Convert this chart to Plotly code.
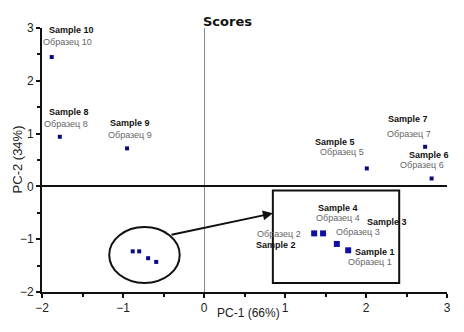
import plotly.graph_objects as go

# ---- data ----
sample_ids = [1, 2, 3, 4, 5, 6, 7, 8, 9, 10]
pc1 = [-0.59, -0.88, -0.69, -0.80, 2.01, 2.81, 2.73, -1.78, -0.95, -1.88]
pc2 = [-1.43, -1.23, -1.36, -1.23, 0.34, 0.15, 0.75, 0.94, 0.72, 2.45]
label_en = [f"Sample {i}" for i in sample_ids]
label_ru = [f"Образец {i}" for i in sample_ids]

# magnified view of samples 1-4 (inset)
inset_ids = [1, 2, 3, 4]
inset_pc1 = [1.78, 1.36, 1.64, 1.47]
inset_pc2 = [-1.21, -0.89, -1.09, -0.89]

x_ticks = [-2, -1, 0, 1, 2, 3]
y_ticks = [-2, -1, 0, 1, 2, 3]

# ---- label offsets (pixels: bold dx, dy, gray dx, dy; dy positive = up) ----
main_offsets = {
    5: (-32, 26, -25, 16),
    6: (-3, 23, -10, 13),
    7: (-17, 28, -16, 13),
    8: (9, 25, 6, 13),
    9: (3, 25, 3, 13),
    10: (20, 27, 16, 15),
}
inset_offsets = {
    1: (27, -2, 22, -12),
    2: (-38, -12, -35, -1),
    3: (50, 22, 21, 12),
    4: (15, 25, 15, 15),
}

FONT = "Liberation Sans, Arial, sans-serif"
MARK = "#0a0a80"

fig = go.Figure()

main_x = [pc1[i] for i in range(len(sample_ids)) if sample_ids[i] not in inset_ids]
main_y = [pc2[i] for i in range(len(sample_ids)) if sample_ids[i] not in inset_ids]
clu_x = [pc1[i] for i in range(len(sample_ids)) if sample_ids[i] in inset_ids]
clu_y = [pc2[i] for i in range(len(sample_ids)) if sample_ids[i] in inset_ids]

fig.add_trace(go.Scatter(x=main_x, y=main_y, mode="markers",
                         marker=dict(symbol="square", size=4, color=MARK),
                         hoverinfo="skip"))
fig.add_trace(go.Scatter(x=clu_x, y=clu_y, mode="markers",
                         marker=dict(symbol="square", size=4, color=MARK),
                         hoverinfo="skip"))
fig.add_trace(go.Scatter(x=inset_pc1, y=inset_pc2, mode="markers",
                         marker=dict(symbol="square", size=6, color="#1010a0"),
                         hoverinfo="skip"))

annotations = []

def add_labels(x, y, sid, off):
    bdx, bdy, gdx, gdy = off
    annotations.append(dict(x=x, y=y, xref="x", yref="y", text=f"<b>Sample {sid}</b>",
                            showarrow=False, xshift=bdx, yshift=bdy,
                            font=dict(family=FONT, size=9, color="#111111")))
    annotations.append(dict(x=x, y=y, xref="x", yref="y", text=f"Образец {sid}",
                            showarrow=False, xshift=gdx, yshift=gdy,
                            font=dict(family=FONT, size=9, color="#666666")))

for i, sid in enumerate(sample_ids):
    if sid in main_offsets:
        add_labels(pc1[i], pc2[i], sid, main_offsets[sid])
for i, sid in enumerate(inset_ids):
    add_labels(inset_pc1[i], inset_pc2[i], sid, inset_offsets[sid])

# arrow from ellipse to inset box
annotations.append(dict(x=0.85, y=-0.51, xref="x", yref="y",
                        ax=-0.42, ay=-0.92, axref="x", ayref="y",
                        showarrow=True, arrowhead=2, arrowsize=1, arrowwidth=2,
                        arrowcolor="#111111", text=""))

# title and axis titles
annotations.append(dict(x=0.459, y=1.06, xref="paper", yref="paper", text="<b>Scores</b>",
                        showarrow=False, font=dict(family="DejaVu Sans, sans-serif", size=13, color="#111111")))
annotations.append(dict(x=0.511, y=-0.114, xref="paper", yref="paper", text="PC-1 (66%)",
                        showarrow=False, font=dict(family=FONT, size=12, color="#222222")))
annotations.append(dict(x=-0.084, y=0.504, xref="paper", yref="paper", text="PC-2 (34%)",
                        textangle=-90, showarrow=False,
                        font=dict(family=FONT, size=13, color="#222222")))

shapes = [
    dict(type="circle", xref="x", yref="y", x0=-1.17, x1=-0.30, y0=-1.83, y1=-0.77,
         line=dict(color="#111111", width=2)),
    dict(type="rect", xref="x", yref="y", x0=0.85, x1=2.41, y0=-1.83, y1=-0.08,
         line=dict(color="#111111", width=2)),
]

axis_common = dict(
    showgrid=False, showline=True, linecolor="#111111", linewidth=2,
    ticks="outside", ticklen=4, tickwidth=1.5, tickcolor="#111111",
    tickfont=dict(family=FONT, size=12, color="#222222"),
    minor=dict(dtick=0.5, ticks="outside", ticklen=3, tickcolor="#111111", showgrid=False),
    zeroline=True,
)

fig.update_layout(
    width=464, height=332,
    margin=dict(l=42, r=17, t=28, b=40),
    paper_bgcolor="white", plot_bgcolor="white",
    showlegend=False,
    xaxis=dict(range=[-2, 3], tickvals=x_ticks, zerolinecolor="#888888", zerolinewidth=1,
               **axis_common),
    yaxis=dict(range=[-2, 3], tickvals=y_ticks, zerolinecolor="#111111", zerolinewidth=2,
               **axis_common),
    annotations=annotations,
    shapes=shapes,
)

fig.write_html("out.html", config={"displayModeBar": False},
               post_script="document.body.style.margin='0px';document.body.style.overflow='hidden';")
